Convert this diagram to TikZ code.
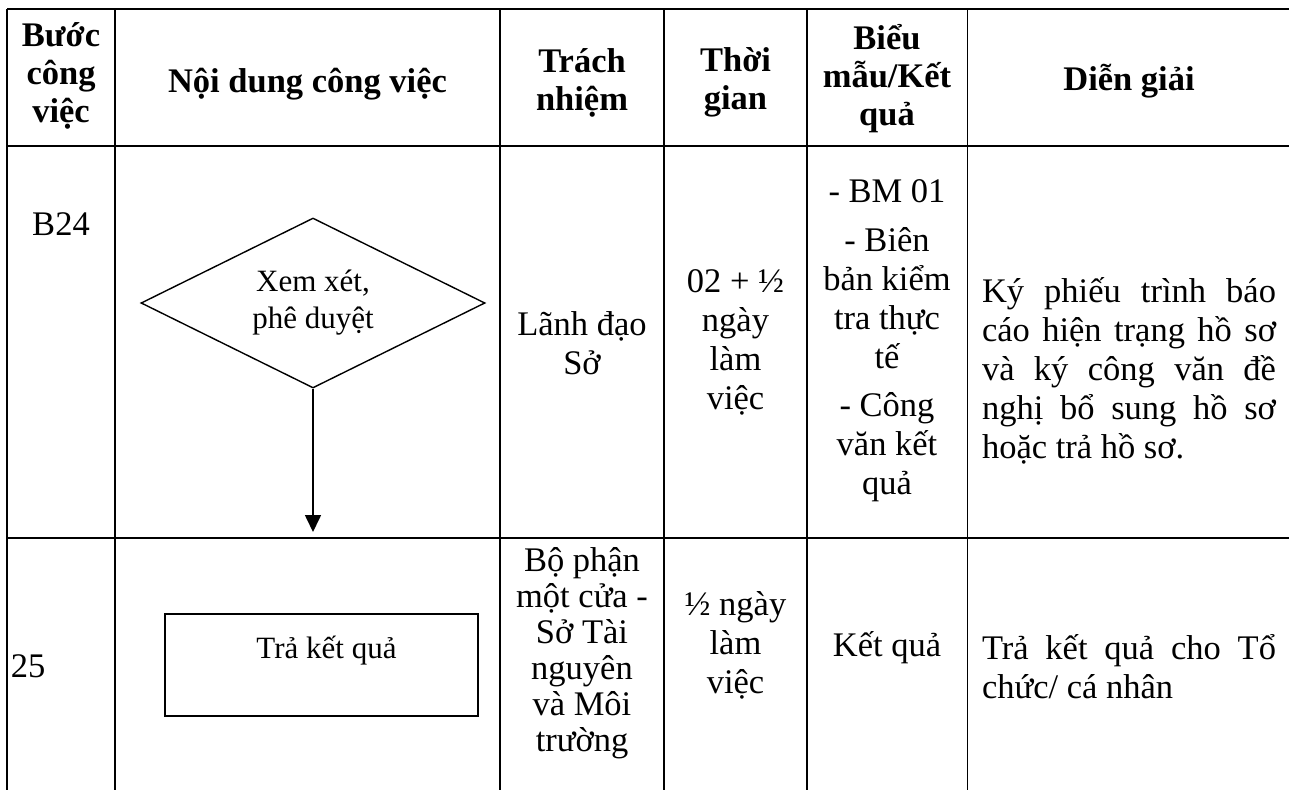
\documentclass[tikz,border=0pt]{standalone}
\usepackage{fontspec}
\setmainfont{Liberation Serif}
\usetikzlibrary{shapes.geometric,arrows.meta,positioning}

\begin{document}
\begin{tikzpicture}[x=1pt, y=-1pt, line width=1.6pt,
          every node/.style={inner sep=0pt, align=center},
          head/.style={font=\bfseries\fontsize{34.5}{38}\selectfont},
          cell/.style={font=\fontsize{34.5}{39}\selectfont},
          note/.style={cell, align=justify, text width=294pt},
          shapetext/.style={font=\fontsize{31}{37}\selectfont},
          decision/.style={draw, diamond, aspect=2, line width=1.4pt, minimum width=344pt, minimum height=170pt},
          taskbox/.style={draw, rectangle, line width=1.4pt, minimum width=313pt, minimum height=102pt},
          arr/.style={-{Triangle[length=17pt,width=16pt]}, line width=1.6pt}]
          \useasboundingbox (0,0) rectangle (1289,790);
          \draw (7,9) -- (1289,9);
          \draw (7,146) -- (1289,146);
          \draw (7,538) -- (1289,538);
          \draw (7,9) -- (7,790);
          \draw (115,9) -- (115,790);
          \draw (500,9) -- (500,790);
          \draw (664,9) -- (664,790);
          \draw (807,9) -- (807,790);
          \draw (967.5,9) -- (967.5,790);
          \node [head] (h1) at (61,75.5) {Bước\\công\\việc};
          \node [head, anchor=base] (h2) at (307.5,92) {Nội dung công việc};
          \node [head] (h3) at (582,82.5) {Trách\\nhiệm};
          \node [head] (h4) at (735.5,82) {Thời\\gian};
          \node [head] (h5) at (887,78.5) {Biểu\\mẫu/Kết\\quả};
          \node [head, anchor=base] (h6) at (1129,90) {Diễn giải};
          \node [cell, anchor=base] (b24) at (61,235) {B24};
          \node [decision, shapetext] (d24) at (313,303) {Xem xét,\\phê duyệt};
          \coordinate (a24) at (313,532);
          \draw [arr] (d24.south) -- (a24);
          \node [cell] (r24) at (582,343.5) {Lãnh đạo\\Sở};
          \node [cell] (t24) at (735.5,342.5) {02 + ½\\ngày\\làm\\việc};
          \node [cell] (f24) at (887,341) {- BM 01\\[10pt]- Biên\\bản kiểm\\tra thực\\tế\\[9pt]- Công\\văn kết\\quả};
          \node [note] (n24) at (1129,370.5) {Ký phiếu trình báo\linebreak cáo hiện trạng hồ sơ\linebreak và ký công văn đề\linebreak nghị bổ sung hồ sơ\linebreak hoặc trả hồ sơ.};
          \node [cell, anchor=base west] (b25) at (10,677) {25};
          \node [taskbox] (s25) at (321.5,665) {};
          \node [shapetext, anchor=base] (l25) at (326.5,658) {Trả kết quả};
          \node [cell, font=\fontsize{34.5}{36}\selectfont] (r25) at (582,653.5) {Bộ phận\\một cửa -\\Sở Tài\\nguyên\\và Môi\\trường};
          \node [cell] (t25) at (735.5,645) {½ ngày\\làm\\việc};
          \node [cell, anchor=base] (f25) at (887,656) {Kết quả};
          \node [note] (n25) at (1129,667) {Trả kết quả cho Tổ\linebreak chức/ cá nhân};
        \end{tikzpicture}
\end{document}
